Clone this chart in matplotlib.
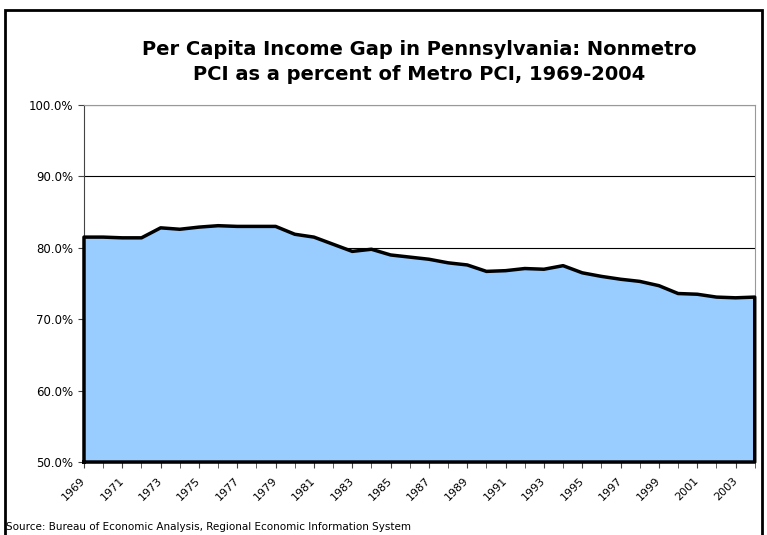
import numpy as np
import matplotlib
matplotlib.use('Agg')
import matplotlib.pyplot as plt
from matplotlib.patches import Rectangle
from matplotlib.ticker import FuncFormatter

years = list(range(1969, 2005))
gap_pct = [81.5, 81.5, 81.4, 81.4, 82.8, 82.6, 82.9, 83.1, 83.0, 83.0,
           83.0, 81.9, 81.5, 80.5, 79.5, 79.8, 79.0, 78.7, 78.4, 77.9,
           77.6, 76.7, 76.8, 77.1, 77.0, 77.5, 76.5, 76.0, 75.6, 75.3,
           74.7, 73.6, 73.5, 73.1, 73.0, 73.1]
y_ticks = [50, 60, 70, 80, 90, 100]
title = 'Per Capita Income Gap in Pennsylvania: Nonmetro\nPCI as a percent of Metro PCI, 1969-2004'
source = 'Source: Bureau of Economic Analysis, Regional Economic Information System'

fig = plt.figure(figsize=(7.67, 5.35), dpi=100)
ax = fig.add_axes([0.1095, 0.1364, 0.8745, 0.6673])

# outer chart border
fig.patches.append(Rectangle((5 / 767, -0.02), 757 / 767, 1 - 10 / 535 + 0.02,
                             transform=fig.transFigure, fill=False,
                             edgecolor='black', linewidth=2))

x = np.arange(len(years))
ax.fill_between(x, 50, gap_pct, facecolor='#99CCFF', edgecolor='none', zorder=2)
# outline of the area
ax.plot(np.r_[x[0], x, x[-1], x[0], x[0]],
        np.r_[50, gap_pct, 50, 50, 50],
        color='black', linewidth=2.5, solid_joinstyle='round', zorder=3,
        clip_on=False)

ax.set_ylim(50, 100)
ax.set_xlim(x[0], x[-1])
ax.set_yticks(y_ticks)
ax.yaxis.set_major_formatter(FuncFormatter(lambda v, p: '%.1f%%' % v))
ax.grid(axis='y', color='black', linewidth=0.8, zorder=1)
ax.set_axisbelow(True)

ax.set_xticks(x, minor=True)
ax.set_xticks(x[::2])
ax.set_xticklabels([str(y) for y in years[::2]], rotation=45, ha='right',
                   va='center', rotation_mode='anchor')
ax.tick_params(axis='x', which='both', length=4, direction='out', color='#444444')
ax.tick_params(axis='x', labelsize=8, pad=8)
ax.tick_params(axis='y', length=4, direction='out', labelsize=8.5, color='#444444')

for s in ['top', 'right']:
    ax.spines[s].set_color('#999999')
    ax.spines[s].set_linewidth(0.8)
ax.spines['left'].set_color('#444444')
ax.spines['bottom'].set_color('black')

fig.text(419.5 / 767, 1 - 62 / 535, title, ha='center', va='center',
         fontsize=14, fontweight='bold', linespacing=1.45)
fig.text(6 / 767, 1 - 527 / 535, source, ha='left', va='center', fontsize=7.5)

fig.savefig('out.png', dpi=100)
